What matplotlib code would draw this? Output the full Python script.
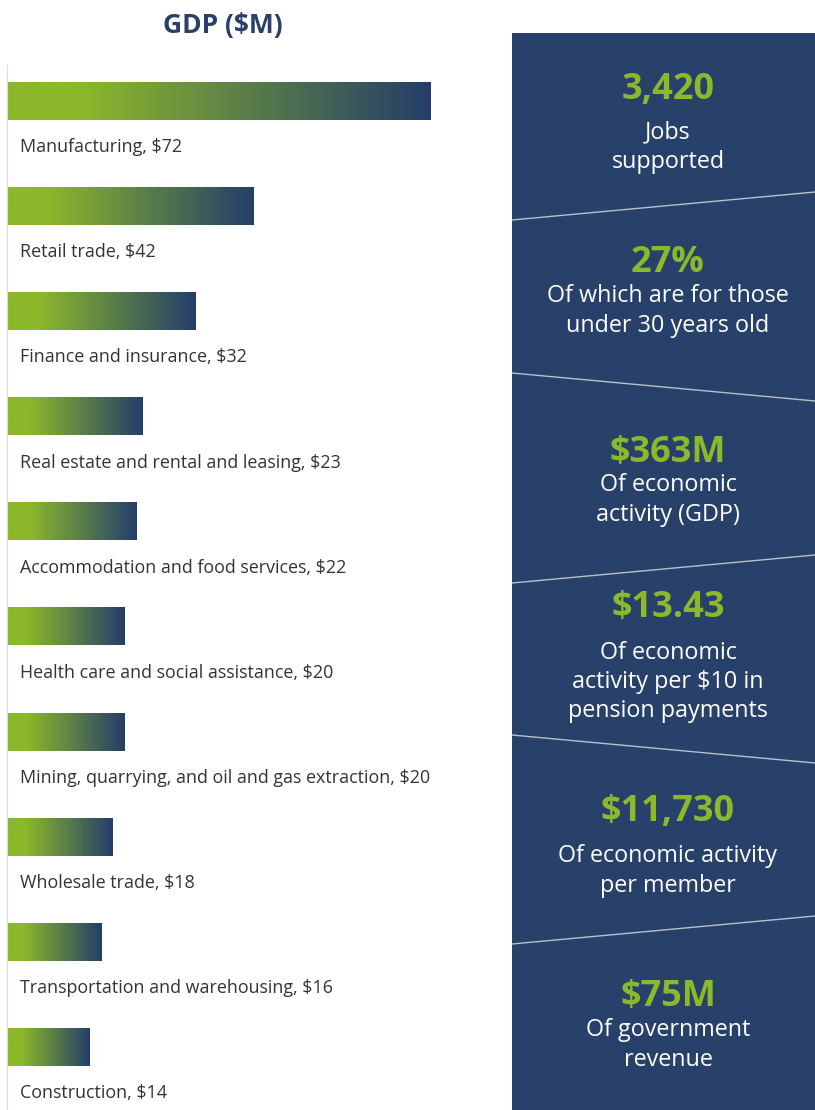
import numpy as np
import matplotlib
matplotlib.use("Agg")
import matplotlib.pyplot as plt
from matplotlib.colors import LinearSegmentedColormap

# GDP by industry ($M)
industries = ["Manufacturing", "Retail trade", "Finance and insurance",
              "Real estate and rental and leasing", "Accommodation and food services",
              "Health care and social assistance",
              "Mining, quarrying, and oil and gas extraction", "Wholesale trade",
              "Transportation and warehousing", "Construction"]
gdp = [72, 42, 32, 23, 22, 20, 20, 18, 16, 14]

# key figures in the side panel
stat_values = ["3,420", "27%", "$363M", "$13.43", "$11,730", "$75M"]
stat_texts = ["Jobs\nsupported",
              "Of which are for those\nunder 30 years old",
              "Of economic\nactivity (GDP)",
              "Of economic\nactivity per $10 in\npension payments",
              "Of economic activity\nper member",
              "Of government\nrevenue"]

GREEN = "#8cb82b"
NAVY = "#27416a"
W, H = 815, 1110

plt.rcParams['font.family'] = ['Open Sans', 'DejaVu Sans']
fig = plt.figure(figsize=(W / 100, H / 100), dpi=100)

# left: bar chart, positioned in pixel terms
left_px, right_px = 7, 500
top_px, bot_px = 55, 1110
ax = fig.add_axes([left_px / W, 1 - bot_px / H, (right_px - left_px) / W, (bot_px - top_px) / H])
px_per_unit = 5.88
row_px = 105.1
first_row_px = 101

cmap = LinearSegmentedColormap.from_list("gdp", [(0, GREEN), (0.17, GREEN), (1, "#243e69")])
grad = np.linspace(0, 1, 256).reshape(1, -1)
bar_h = 0.36
for i, (name, v) in enumerate(zip(industries, gdp)):
    ax.imshow(grad, cmap=cmap, aspect="auto", interpolation="bicubic",
              extent=[0, v, i + bar_h / 2, i - bar_h / 2], zorder=2)
    ax.text(2.2, i + 0.44, f"{name}, ${v}", fontsize=12.9, color="#333333",
            va="center", ha="left")
ax.set_xlim(0, (right_px - left_px) / px_per_unit)
ax.set_ylim((bot_px - first_row_px) / row_px, (top_px - first_row_px) / row_px)
for s in ["top", "right", "bottom"]:
    ax.spines[s].set_visible(False)
ax.spines["left"].set_color("#dcdcdc")
ax.spines["left"].set_bounds((65 - first_row_px) / row_px, (bot_px - first_row_px) / row_px)
ax.set_xticks([])
ax.set_yticks([])

fig.text(223 / W, 1 - 25 / H, "GDP ($M)", ha="center", va="center", fontsize=19,
         fontweight="bold", color="#2a4068")

# right: navy panel, axes in pixel coordinates
pan = fig.add_axes([512 / W, 0, (W - 512) / W, (H - 33) / H])
pan.set_xlim(512, W)
pan.set_ylim(H, 33)
pan.set_facecolor(NAVY)
pan.set_xticks([])
pan.set_yticks([])
for s in pan.spines.values():
    s.set_visible(False)

dividers = [(220, 192), (373, 401), (583, 555), (735, 763), (944, 916)]
for yl, yr in dividers:
    pan.plot([512, W], [yl, yr], color="#b8c0cc", lw=1)

value_y = [90, 263, 453, 608, 812, 997]
text_y = [147, 311, 500, 682, 871, 1045]
cx = 668
for v, t, vy, ty in zip(stat_values, stat_texts, value_y, text_y):
    pan.text(cx, vy, v, ha="center", va="center", fontsize=26, fontweight="bold", color=GREEN)
    pan.text(cx, ty, t, ha="center", va="center", fontsize=16.8, color="white",
             linespacing=1.3)

fig.savefig("out.png", dpi=100, facecolor="white")
